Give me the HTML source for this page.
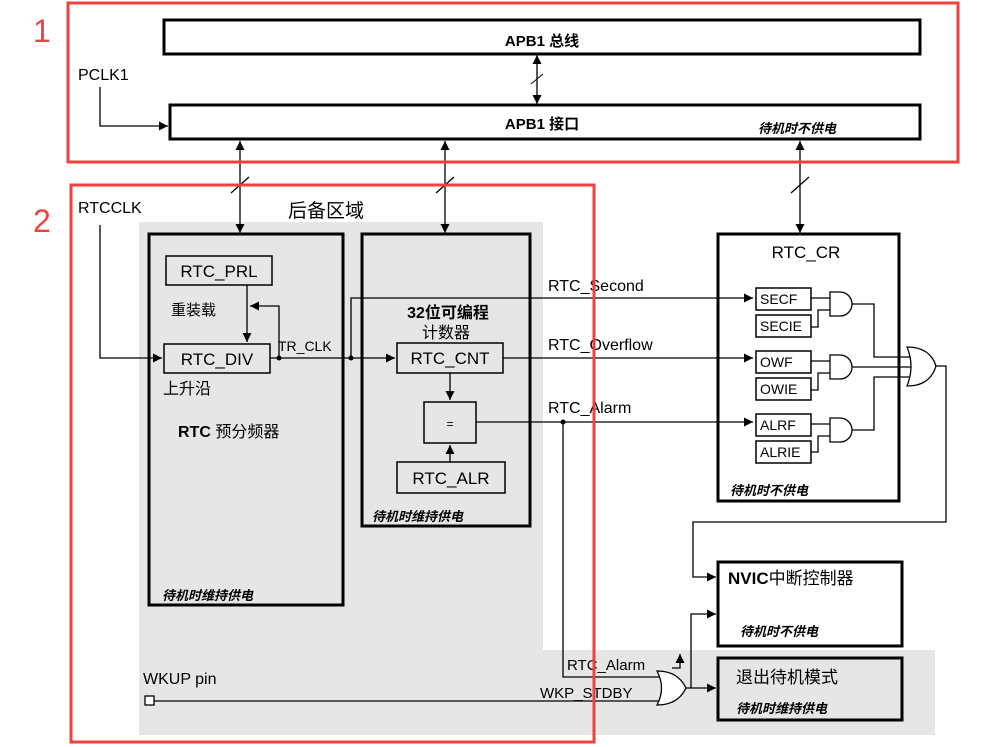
<!DOCTYPE html>
<html><head><meta charset="utf-8"><style>
html,body{margin:0;padding:0;background:#fff;}
svg{display:block;font-family:"Liberation Sans","Noto Sans CJK SC",sans-serif;}
.b{font-weight:bold}
.i{font-style:italic;font-weight:bold;font-size:13px}
</style></head><body>
<svg width="992" height="747" viewBox="0 0 992 747" xmlns="http://www.w3.org/2000/svg">
<defs>
<marker id="a" viewBox="0 0 10 10" refX="10" refY="5" markerWidth="9" markerHeight="9" orient="auto-start-reverse" markerUnits="userSpaceOnUse"><path d="M0,0 L10,5 L0,10z" fill="#000"/></marker>
</defs>
<rect x="139" y="222" width="404" height="513" fill="#e6e6e6"/>
<rect x="543" y="650" width="392" height="85" fill="#e6e6e6"/>

<rect x="164" y="20" width="756" height="34" fill="#fff" stroke="#000" stroke-width="3"/>
<text x="542" y="46" font-size="15" class="b" text-anchor="middle">APB1 总线</text>
<rect x="170" y="105" width="750" height="34" fill="#fff" stroke="#000" stroke-width="3"/>
<text x="542" y="129" font-size="15" class="b" text-anchor="middle">APB1 接口</text>
<text x="758" y="133" class="i">待机时不供电</text>
<line x1="537" y1="55" x2="537" y2="104" stroke="#000" stroke-width="1.3" marker-start="url(#a)" marker-end="url(#a)"/>
<line x1="531" y1="84" x2="543" y2="74" stroke="#000"/>
<text x="78" y="80" font-size="16">PCLK1</text>
<polyline points="100,87 100,126 168,126" fill="none" stroke="#000" stroke-width="1.3" marker-end="url(#a)"/>

<g stroke="#000" stroke-width="1.3" fill="none">
<line x1="240" y1="141" x2="240" y2="233" marker-start="url(#a)" marker-end="url(#a)"/>
<line x1="445" y1="141" x2="445" y2="233" marker-start="url(#a)" marker-end="url(#a)"/>
<line x1="800" y1="141" x2="800" y2="233" marker-start="url(#a)" marker-end="url(#a)"/>
<line x1="231" y1="193" x2="249" y2="177"/>
<line x1="436" y1="193" x2="454" y2="177"/>
<line x1="791" y1="193" x2="809" y2="177"/>
</g>
<text x="288" y="217" font-size="19">后备区域</text>
<text x="78" y="213" font-size="16">RTCCLK</text>

<rect x="149" y="234" width="194" height="371" fill="none" stroke="#000" stroke-width="3"/>
<rect x="166" y="256" width="106" height="29" fill="#e6e6e6" stroke="#000" stroke-width="1.5"/>
<text x="219" y="277" font-size="17" text-anchor="middle">RTC_PRL</text>
<text x="171" y="315" font-size="15">重装载</text>
<rect x="164" y="344" width="106" height="29" fill="#e6e6e6" stroke="#000" stroke-width="1.5"/>
<text x="217" y="365" font-size="17" text-anchor="middle">RTC_DIV</text>
<text x="163" y="394" font-size="16">上升沿</text>
<text x="178" y="437" font-size="16" class="b">RTC<tspan font-weight="normal"> 预分频器</tspan></text>
<text x="162" y="600" class="i">待机时维持供电</text>

<rect x="362" y="234" width="168" height="292" fill="none" stroke="#000" stroke-width="3"/>
<text x="448" y="318" font-size="16" class="b" text-anchor="middle">32位可编程</text>
<text x="446" y="338" font-size="16" text-anchor="middle">计数器</text>
<rect x="397" y="343" width="106" height="30" fill="#e6e6e6" stroke="#000" stroke-width="1.5"/>
<text x="450" y="364" font-size="17" text-anchor="middle">RTC_CNT</text>
<rect x="424" y="402" width="52" height="41" fill="#e6e6e6" stroke="#000" stroke-width="1.5"/>
<text x="450" y="428" font-size="12" text-anchor="middle">=</text>
<rect x="397" y="462" width="108" height="31" fill="#e6e6e6" stroke="#000" stroke-width="1.5"/>
<text x="451" y="484" font-size="17" text-anchor="middle">RTC_ALR</text>
<text x="372" y="521" class="i">待机时维持供电</text>

<g stroke="#000" stroke-width="1.3" fill="none">
<polyline points="100,225 100,358 162,358" marker-end="url(#a)"/>
<line x1="247" y1="285" x2="247" y2="342" marker-end="url(#a)"/>
<polyline points="279,358 279,306 250,306" marker-end="url(#a)"/>
<line x1="270" y1="358" x2="395" y2="358" marker-end="url(#a)"/>
<polyline points="351,358 351,298 753,298" marker-end="url(#a)"/>
<line x1="450" y1="373" x2="450" y2="400" marker-end="url(#a)"/>
<line x1="450" y1="462" x2="450" y2="445" marker-end="url(#a)"/>
<line x1="503" y1="358" x2="753" y2="358" marker-end="url(#a)"/>
<line x1="476" y1="422" x2="753" y2="422" marker-end="url(#a)"/>
<polyline points="563,422 563,677 662,677"/>
</g>
<circle cx="279" cy="358" r="2.5"/><circle cx="351" cy="358" r="2.5"/><circle cx="563" cy="422" r="2.5"/>
<text x="278" y="351" font-size="14">TR_CLK</text>
<text x="548" y="291" font-size="16">RTC_Second</text>
<text x="548" y="350" font-size="16">RTC_Overflow</text>
<text x="548" y="413" font-size="16">RTC_Alarm</text>

<rect x="718" y="234" width="181" height="267" fill="none" stroke="#000" stroke-width="3"/>
<text x="806" y="258" font-size="17" text-anchor="middle">RTC_CR</text>
<g font-size="14" stroke-width="1.5">
<rect x="756" y="288" width="55" height="22" fill="#fff" stroke="#000"/><text x="760" y="304">SECF</text>
<rect x="756" y="315" width="55" height="22" fill="#fff" stroke="#000"/><text x="760" y="331">SECIE</text>
<rect x="756" y="351" width="55" height="22" fill="#fff" stroke="#000"/><text x="760" y="367">OWF</text>
<rect x="756" y="378" width="55" height="22" fill="#fff" stroke="#000"/><text x="760" y="394">OWIE</text>
<rect x="756" y="414" width="55" height="22" fill="#fff" stroke="#000"/><text x="760" y="430">ALRF</text>
<rect x="756" y="441" width="55" height="22" fill="#fff" stroke="#000"/><text x="760" y="457">ALRIE</text>
</g>
<g stroke="#000" stroke-width="1.3" fill="none">
<path d="M830,292 H840 A12,12 0 0 1 840,316 H830 Z"/>
<path d="M830,355 H840 A12,12 0 0 1 840,379 H830 Z"/>
<path d="M830,418 H840 A12,12 0 0 1 840,442 H830 Z"/>
<line x1="811" y1="298" x2="830" y2="298"/><polyline points="811,327 818,327 818,310 830,310"/>
<line x1="811" y1="361" x2="830" y2="361"/><polyline points="811,390 818,390 818,373 830,373"/>
<line x1="811" y1="424" x2="830" y2="424"/><polyline points="811,452 818,452 818,436 830,436"/>
<polyline points="852,304 874,304 874,357 912,357"/>
<line x1="852" y1="367" x2="912" y2="367"/>
<polyline points="852,430 874,430 874,377 912,377"/>
<path d="M907,347 Q930,347 936,366 Q930,386 907,386 Q915,366 907,347 Z" fill="#fff"/>
<polyline points="936,366 946,366 946,522 693,522 693,577 716,577" marker-end="url(#a)"/>
</g>
<text x="730" y="495" class="i">待机时不供电</text>

<rect x="718" y="562" width="184" height="84" fill="#fff" stroke="#000" stroke-width="3"/>
<text x="728" y="584" font-size="17" class="b">NVIC<tspan font-weight="normal">中断控制器</tspan></text>
<text x="740" y="636" class="i">待机时不供电</text>
<rect x="718" y="658" width="184" height="62" fill="#e6e6e6" stroke="#000" stroke-width="3"/>
<text x="736" y="683" font-size="17">退出待机模式</text>
<text x="736" y="713" class="i">待机时维持供电</text>

<rect x="145" y="696" width="9" height="9" fill="#fff" stroke="#000" stroke-width="1.3"/>
<text x="143" y="684" font-size="16">WKUP pin</text>
<text x="567" y="670" font-size="15">RTC_Alarm</text>
<text x="540" y="698" font-size="15">WKP_STDBY</text>
<g stroke="#000" stroke-width="1.3" fill="none">
<line x1="154" y1="701" x2="662" y2="701"/>
<path d="M657,671 Q678,671 686,688 Q678,705 657,705 Q666,688 657,671 Z" fill="#fff"/>
<line x1="686" y1="688" x2="716" y2="688" marker-end="url(#a)"/>
<polyline points="691,688 691,614 716,614" marker-end="url(#a)"/>
<polyline points="672,668 680,668 680,654" marker-end="url(#a)"/>
</g>

<rect x="68" y="3" width="890" height="159" fill="none" stroke="#f04040" stroke-width="3"/>
<rect x="71" y="185" width="523" height="557" fill="none" stroke="#f04040" stroke-width="3"/>
<text x="33" y="42" font-size="32" fill="#f04040">1</text>
<text x="33" y="232" font-size="32" fill="#f04040">2</text>
</svg>
</body></html>
